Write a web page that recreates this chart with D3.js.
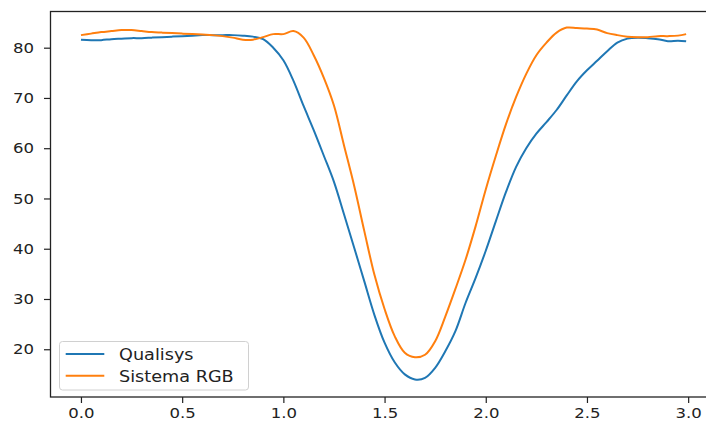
<!DOCTYPE html>
<html>
<head>
<meta charset="utf-8">
<script src="https://cdn.jsdelivr.net/npm/d3@7"></script>
<style>
  body { margin: 0; background: #fff; }
  text { font-family: "DejaVu Sans", sans-serif; fill: #222; }
</style>
</head>
<body>
<div id="container"></div>
<script>
var width = 706,
    height = 421;

// time (s)
var time = [0.00, 0.05, 0.10, 0.15, 0.20, 0.25, 0.30, 0.35, 0.40, 0.45,
    0.50, 0.55, 0.60, 0.65, 0.70, 0.75, 0.80, 0.85, 0.90, 0.95,
    1.00, 1.05, 1.10, 1.15, 1.20, 1.25, 1.30, 1.35, 1.40, 1.45,
    1.50, 1.55, 1.60, 1.65, 1.70, 1.75, 1.80, 1.85, 1.90, 1.95,
    2.00, 2.05, 2.10, 2.15, 2.20, 2.25, 2.30, 2.35, 2.40, 2.45,
    2.50, 2.55, 2.60, 2.65, 2.70, 2.75, 2.80, 2.85, 2.90, 2.95, 2.99];

var qualisys = [81.6, 81.5, 81.5, 81.7, 81.8, 81.9, 81.9, 82.0, 82.1, 82.2,
    82.3, 82.4, 82.5, 82.5, 82.5, 82.5, 82.4, 82.2, 81.7, 80.0,
    77.5, 73.4, 68.4, 63.6, 58.5, 53.3, 46.8, 40.2, 33.5, 26.8,
    21.3, 17.4, 15.0, 14.0, 14.3, 16.3, 19.6, 23.6, 29.2, 34.2,
    39.6, 45.5, 51.3, 56.3, 60.0, 62.9, 65.2, 67.6, 70.5, 73.3,
    75.5, 77.4, 79.3, 81.0, 81.8, 82.0, 81.9, 81.7, 81.3, 81.4, 81.3];

var sistemaRGB = [82.5, 82.8, 83.1, 83.3, 83.5, 83.5, 83.3, 83.1, 83.0, 82.9,
    82.8, 82.7, 82.6, 82.5, 82.3, 82.0, 81.6, 81.6, 82.1, 82.7,
    82.7, 83.3, 82.0, 78.5, 74.0, 68.5, 60.5, 52.5, 43.5, 34.8,
    28.0, 22.6, 19.3, 18.4, 18.9, 21.6, 26.5, 32.0, 37.8, 44.5,
    51.8, 58.5, 64.8, 70.2, 74.8, 78.5, 81.0, 83.0, 84.0, 83.9,
    83.8, 83.6, 82.9, 82.5, 82.2, 82.1, 82.1, 82.3, 82.3, 82.4, 82.7];

var xTicks = [0.0, 0.5, 1.0, 1.5, 2.0, 2.5, 3.0];
var yTicks = [20, 30, 40, 50, 60, 70, 80];
var names = ["Qualisys", "Sistema RGB"];
var colors = ["#1f77b4", "#ff7f0e"];

var svg = d3.select("#container").append("svg")
    .attr("width", width)
    .attr("height", height);

var x = d3.scaleLinear()
    .domain([-0.15, 3.14])
    .range([50.6, 716.5]);

var y = d3.scaleLinear()
    .domain([10.5, 87.3])
    .range([397, 11]);

// frame
svg.append("rect")
    .attr("x", 50.5)
    .attr("y", 11.5)
    .attr("width", 716.5 - 50.5)
    .attr("height", 397 - 11.5)
    .attr("fill", "none")
    .attr("stroke", "#222")
    .attr("stroke-width", 1.3);

var xAxis = svg.append("g")
    .attr("transform", "translate(0,397)")
    .call(d3.axisBottom(x).tickValues(xTicks).tickFormat(d3.format(".1f")).tickSize(6).tickPadding(5));

var yAxis = svg.append("g")
    .attr("transform", "translate(50.5,0)")
    .call(d3.axisLeft(y).tickValues(yTicks).tickSize(6.5).tickPadding(8));

[xAxis, yAxis].forEach(g => {
    g.select(".domain").remove();
    g.selectAll(".tick line").attr("stroke", "#222").attr("stroke-width", 1.2);
    g.selectAll(".tick text")
        .attr("font-size", 14.5)
        .attr("fill", "#222")
        .style("font-family", "DejaVu Sans");
});
// the picture is a bit wider than tall, stretch the labels the same way
xAxis.selectAll(".tick text").attr("transform", "scale(1.14,1)");
yAxis.selectAll(".tick text").attr("transform", "scale(1.14,1)");

var line = d3.line()
    .curve(d3.curveCatmullRom)
    .x((d, i) => x(time[i]))
    .y(d => y(d));

[qualisys, sistemaRGB].forEach((s, k) => {
    svg.append("path")
        .attr("d", line(s))
        .attr("fill", "none")
        .attr("stroke", colors[k])
        .attr("stroke-width", 2)
        .attr("stroke-linejoin", "round");
});

// legend
var lg = svg.append("g");
lg.append("rect")
    .attr("x", 59.5)
    .attr("y", 341.5)
    .attr("width", 189)
    .attr("height", 48.5)
    .attr("rx", 3)
    .attr("fill", "#fff")
    .attr("fill-opacity", 0.8)
    .attr("stroke", "#d0d0d0");

names.forEach((n, k) => {
    var ly = 354 + k * 21.7;
    lg.append("line")
        .attr("x1", 65.7)
        .attr("x2", 104.3)
        .attr("y1", ly)
        .attr("y2", ly)
        .attr("stroke", colors[k])
        .attr("stroke-width", 2);
    lg.append("text")
        .attr("transform", "translate(119," + (ly + 6) + ") scale(1.07,1)")
        .attr("font-size", 16.5)
        .text(n);
});
</script>
</body>
</html>
